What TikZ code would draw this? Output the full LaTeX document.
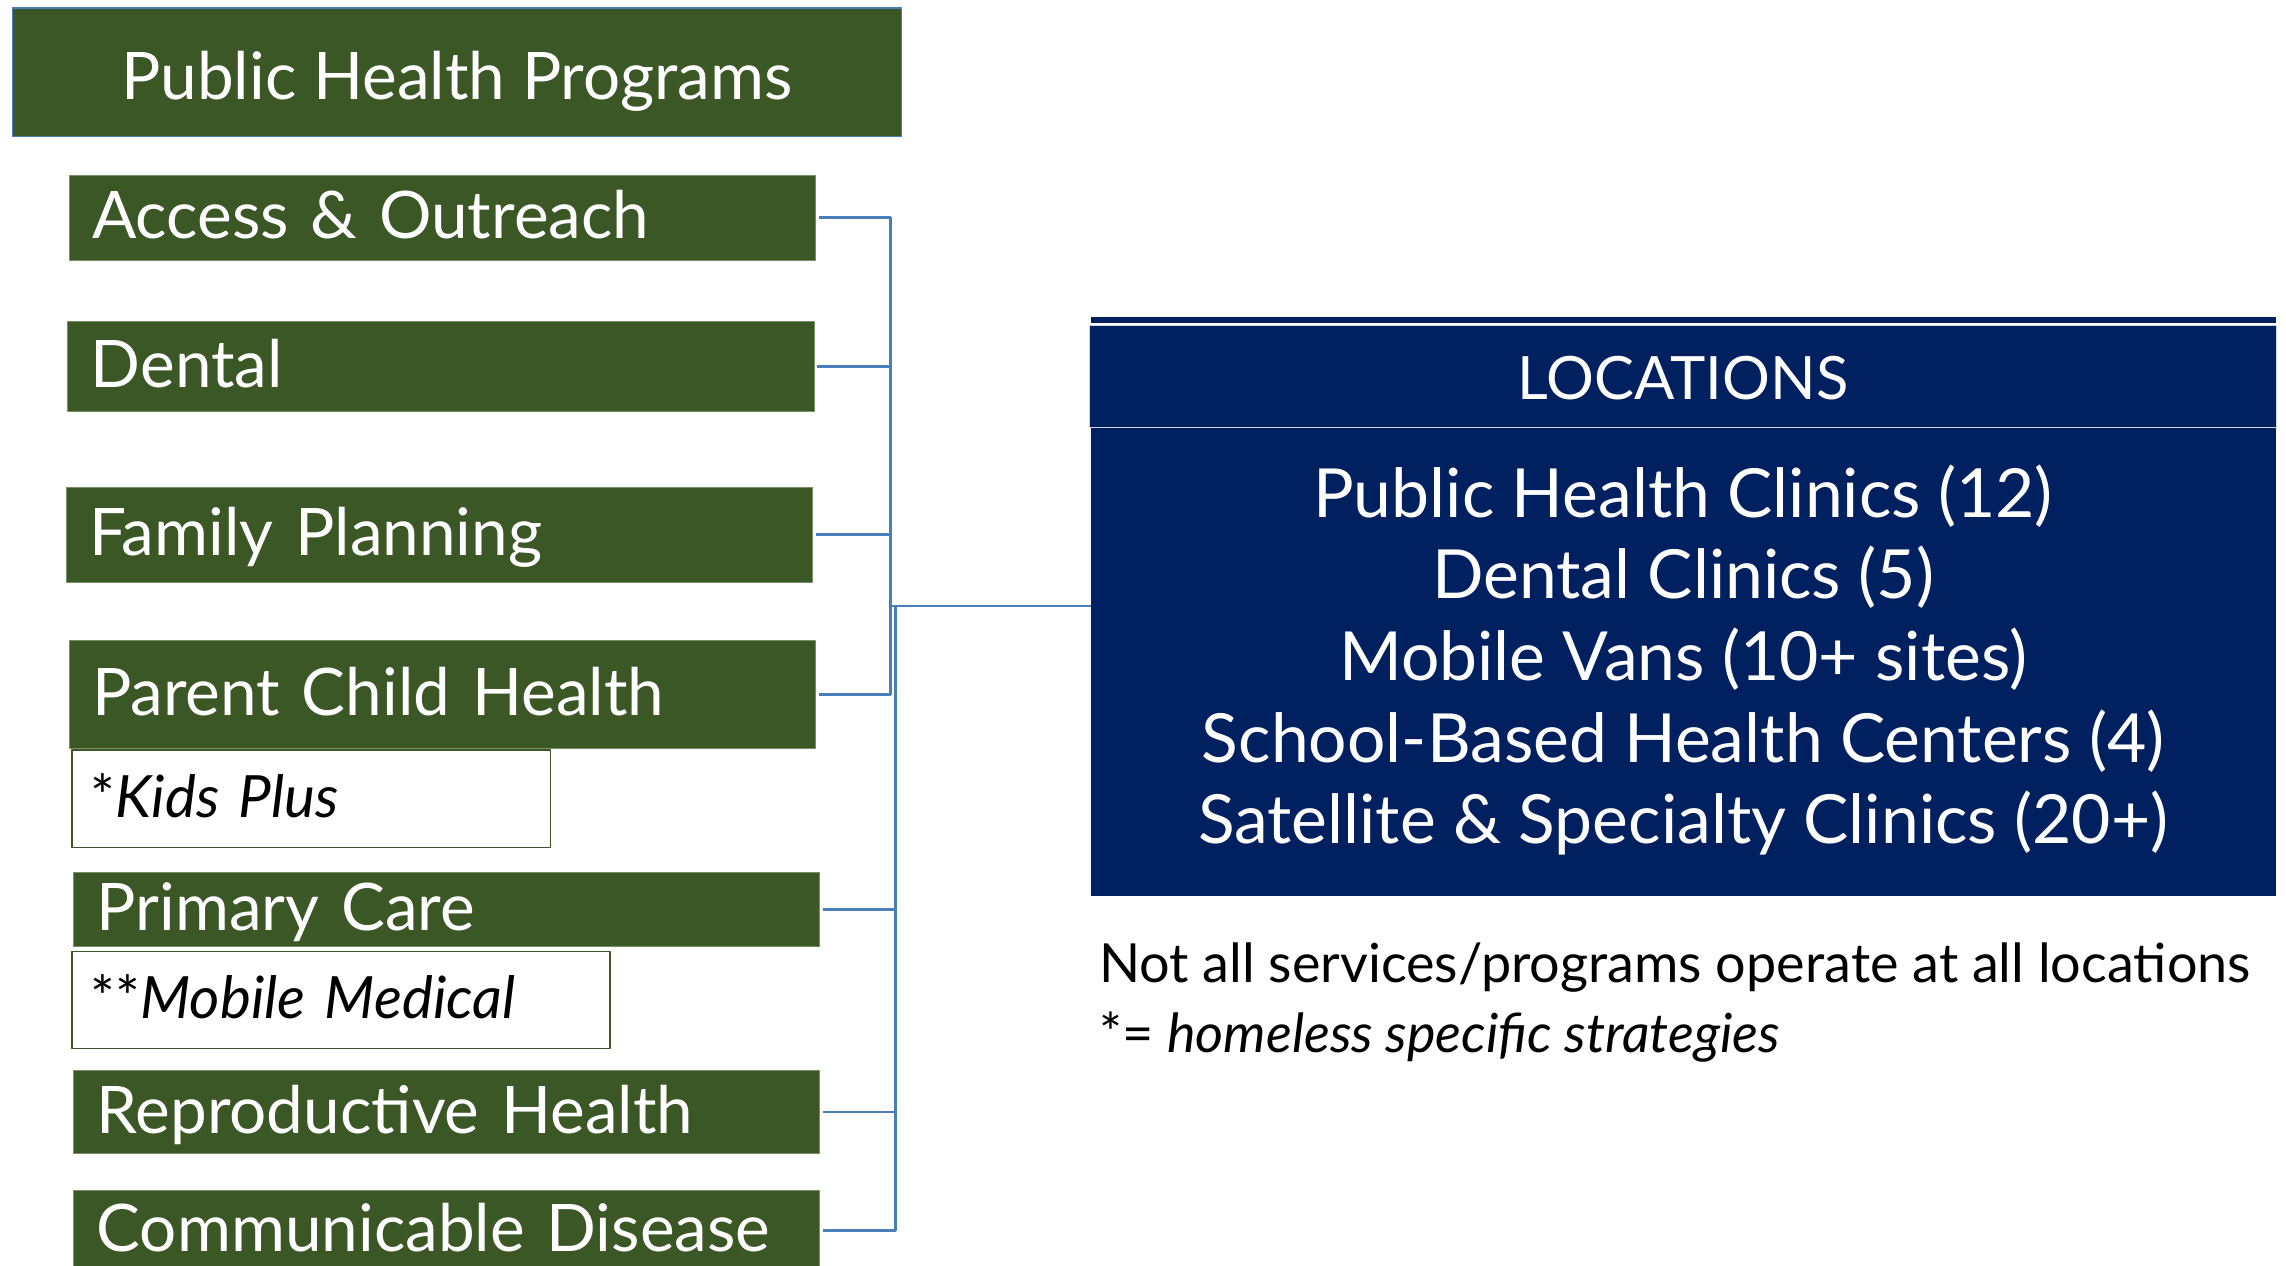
\documentclass[tikz,border=0pt]{standalone}
\usepackage{fontspec}
\setmainfont{Lato}
\definecolor{proggreen}{RGB}{59,87,38}
\definecolor{progedge}{RGB}{120,145,100}
\definecolor{linkblue}{RGB}{74,126,187}
\definecolor{locnavy}{RGB}{0,32,96}
\definecolor{locedge}{RGB}{205,215,232}

\begin{document}
\begin{tikzpicture}[x=1pt,y=-1pt,line join=round,
  prog/.style={draw=progedge,line width=0.6pt,fill=proggreen,text=white,anchor=north west,
    inner xsep=16pt,text width=480pt,align=left,font=\fontsize{45}{52}\selectfont,
    text height=32pt,text depth=3pt},
  sub/.style={draw=proggreen,line width=0.8pt,fill=white,text=black,anchor=north west,
    inner xsep=13pt,align=left,font=\fontsize{40}{46}\selectfont,text height=28pt,text depth=2pt},
  link/.style={draw=linkblue,line width=1.9pt,shorten <=2pt},
  loctext/.style={text=white,anchor=base,font=\fontsize{46.5}{52}\selectfont},
  note/.style={text=black,anchor=base west,inner sep=0pt,font=\fontsize{37}{42}\selectfont}]
\useasboundingbox (0,0) rectangle (1568,868);

% programs
\node[draw=linkblue,line width=1pt,fill=proggreen,text=white,anchor=north west,
  minimum width=610pt,minimum height=88pt,font=\fontsize{45}{50}\selectfont,
  text height=39pt,text depth=2pt] (title) at (8,5) {Public Health Programs};
\node[prog,minimum height=58pt] (access) at (47,120) {Access \& Outreach};
\node[prog,minimum height=62pt] (dental) at (46,220) {Dental};
\node[prog,minimum height=65pt] (family) at (45,334) {Family Planning};
\node[prog,minimum height=74pt] (parent) at (47,439) {Parent Child Health};
\node[sub,text width=302pt,minimum height=67pt] (kids) at (49,514) {*\textit{Kids Plus}};
\node[prog,minimum height=51pt] (primary) at (50,598) {Primary Care};
\node[sub,text width=343pt,minimum height=67pt] (mobile) at (49,652) {**\textit{Mobile Medical}};
\node[prog,minimum height=57pt] (repro) at (50,734) {Reproductive Health};
\node[prog,minimum height=55pt] (comm) at (50,816) {Communicable Disease};

% locations
\node[fill=locnavy,anchor=north west,inner sep=0pt,minimum width=813pt,minimum height=4pt] (locband) at (748,217.4) {};
\node[draw=locedge,line width=0.8pt,fill=locnavy,text=white,anchor=north west,
  minimum width=814pt,minimum height=70pt,font=\fontsize{41}{46}\selectfont,
  text height=33pt,text depth=1.4pt] (lochead) at (747,222.7) {LOCATIONS};
\node[fill=locnavy,anchor=north west,inner sep=0pt,minimum width=813pt,minimum height=321pt] (locbody) at (748,293.5) {};
\foreach \txt [count=\i] in {{Public Health Clinics (12)},{Dental Clinics (5)},{Mobile Vans (10+ sites)},
  {School-Based Health Centers (4)},{Satellite \& Specialty Clinics (20+)}}
  \node[loctext] (loc\i) at (1154.5,{354.7+56*(\i-1)}) {\txt};

\node[note] (note1) at (753.7,673.7) {Not all services/programs operate at all locations};
\node[note] (note2) at (753.7,722) {*= \textit{homeless specific strategies}};

% connectors
\coordinate (hubA) at (611,415.6);
\coordinate (hubB) at (614,415.6);
\foreach \n in {access,dental,family,parent}
  \draw[link] (\n.east) -| (hubA) -- (locbody.west |- hubA);
\foreach \n in {primary,repro,comm}
  \draw[link] (\n.east) -| (hubB) -- (locbody.west |- hubB);
\end{tikzpicture}
\end{document}
